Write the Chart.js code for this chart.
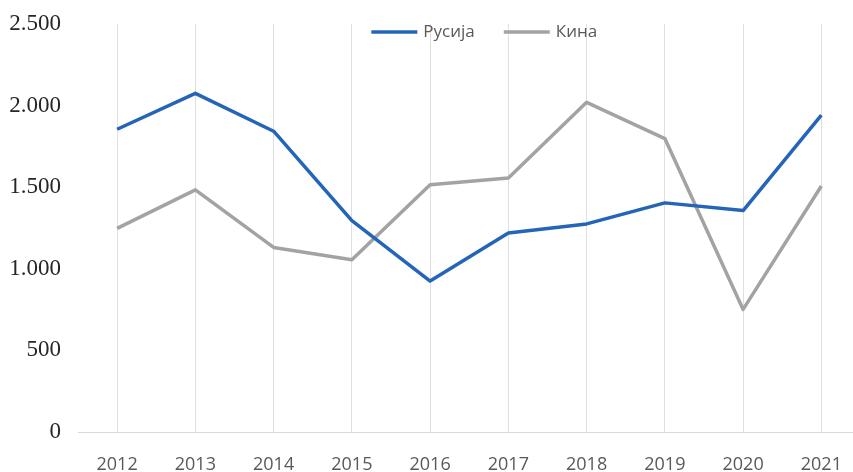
<!DOCTYPE html>
<html>
<head>
<meta charset="utf-8">
<script src="https://cdn.jsdelivr.net/npm/chart.js@4"></script>
<style>
html,body{margin:0;padding:0;background:#ffffff;}
#wrap{width:853px;height:472px;overflow:hidden;position:relative;}
canvas{display:block;}
</style>
</head>
<body>
<div id="wrap"><canvas id="c" width="866" height="472"></canvas></div>
<script>
const categories = ["2012","2013","2014","2015","2016","2017","2018","2019","2020","2021"];
const russiaValues = [1855, 2075, 1843, 1295, 925, 1219, 1275, 1404, 1357, 1942];
const chinaValues = [1248, 1484, 1131, 1055, 1515, 1556, 2020, 1798, 751, 1507];
const seriesNames = ["Русија", "Кина"];
const yTicks = [0, 500, 1000, 1500, 2000, 2500];

function fmt(v){ return v.toLocaleString('de-DE'); }

// legend drawn inside the plot area, overlapping the top of it
const insideLegend = {
  id: 'insideLegend',
  afterDraw(chart){
    const ctx = chart.ctx;
    const ca = chart.chartArea;
    const font = '17px "Open Sans"';
    ctx.save();
    ctx.font = font;
    const lineW = 46, gapText = 6, gapItem = 29;
    const items = chart.data.datasets.map(d => ({ text: d.label, color: d.borderColor, w: ctx.measureText(d.label).width }));
    const total = items.reduce((s,it)=>s+lineW+gapText+it.w,0) + gapItem*(items.length-1);
    const cx = (ca.left + ca.right)/2 + 15;
    const cy = ca.top + 8;
    let x = cx - total/2;
    items.forEach(it => {
      ctx.strokeStyle = it.color;
      ctx.lineWidth = 3.5;
      ctx.beginPath();
      ctx.moveTo(x, cy); ctx.lineTo(x+lineW, cy);
      ctx.stroke();
      x += lineW + gapText;
      ctx.fillStyle = '#595959';
      ctx.textBaseline = 'middle';
      ctx.textAlign = 'left';
      ctx.fillText(it.text, x, cy);
      x += it.w + gapItem;
    });
    ctx.restore();
  }
};

new Chart(document.getElementById('c'), {
  type: 'line',
  data: {
    labels: categories,
    datasets: [
      { label: seriesNames[0], data: russiaValues, borderColor: '#2465b8', backgroundColor: '#2465b8',
        borderWidth: 3.5, pointRadius: 0, tension: 0, borderJoinStyle: 'round' },
      { label: seriesNames[1], data: chinaValues, borderColor: '#a3a3a3', backgroundColor: '#a3a3a3',
        borderWidth: 3.5, pointRadius: 0, tension: 0, borderJoinStyle: 'round' }
    ]
  },
  plugins: [insideLegend],
  options: {
    responsive: false,
    animation: false,
    layout: { padding: { top: 24, right: 1, bottom: 1, left: 0 } },
    plugins: {
      tooltip: { enabled: false },
      legend: { display: false }
    },
    scales: {
      x: {
        offset: true,
        afterFit(s){ s.height = 39; s.paddingTop = 0; },
        grid: { display: true, color: '#e0e0e0', lineWidth: 1, drawTicks: false, offset: false },
        border: { display: true, color: '#d9d9d9' },
        ticks: { color: '#595959', padding: 24, font: { family: 'Open Sans', size: 18, lineHeight: 1.0 }, maxRotation: 0 }
      },
      y: {
        min: 0, max: 2500,
        afterBuildTicks(s){ s.ticks = yTicks.map(v=>({value:v})); },
        afterFit(s){ s.width = 78; s.paddingTop = 0; s.paddingBottom = 0; },
        grid: { display: false, drawTicks: false },
        border: { display: false },
        ticks: { color: '#262626', padding: 17, font: { family: 'Liberation Serif', size: 23, lineHeight: 0.5 }, callback: v => fmt(v) }
      }
    }
  }
});
</script>
</body>
</html>
